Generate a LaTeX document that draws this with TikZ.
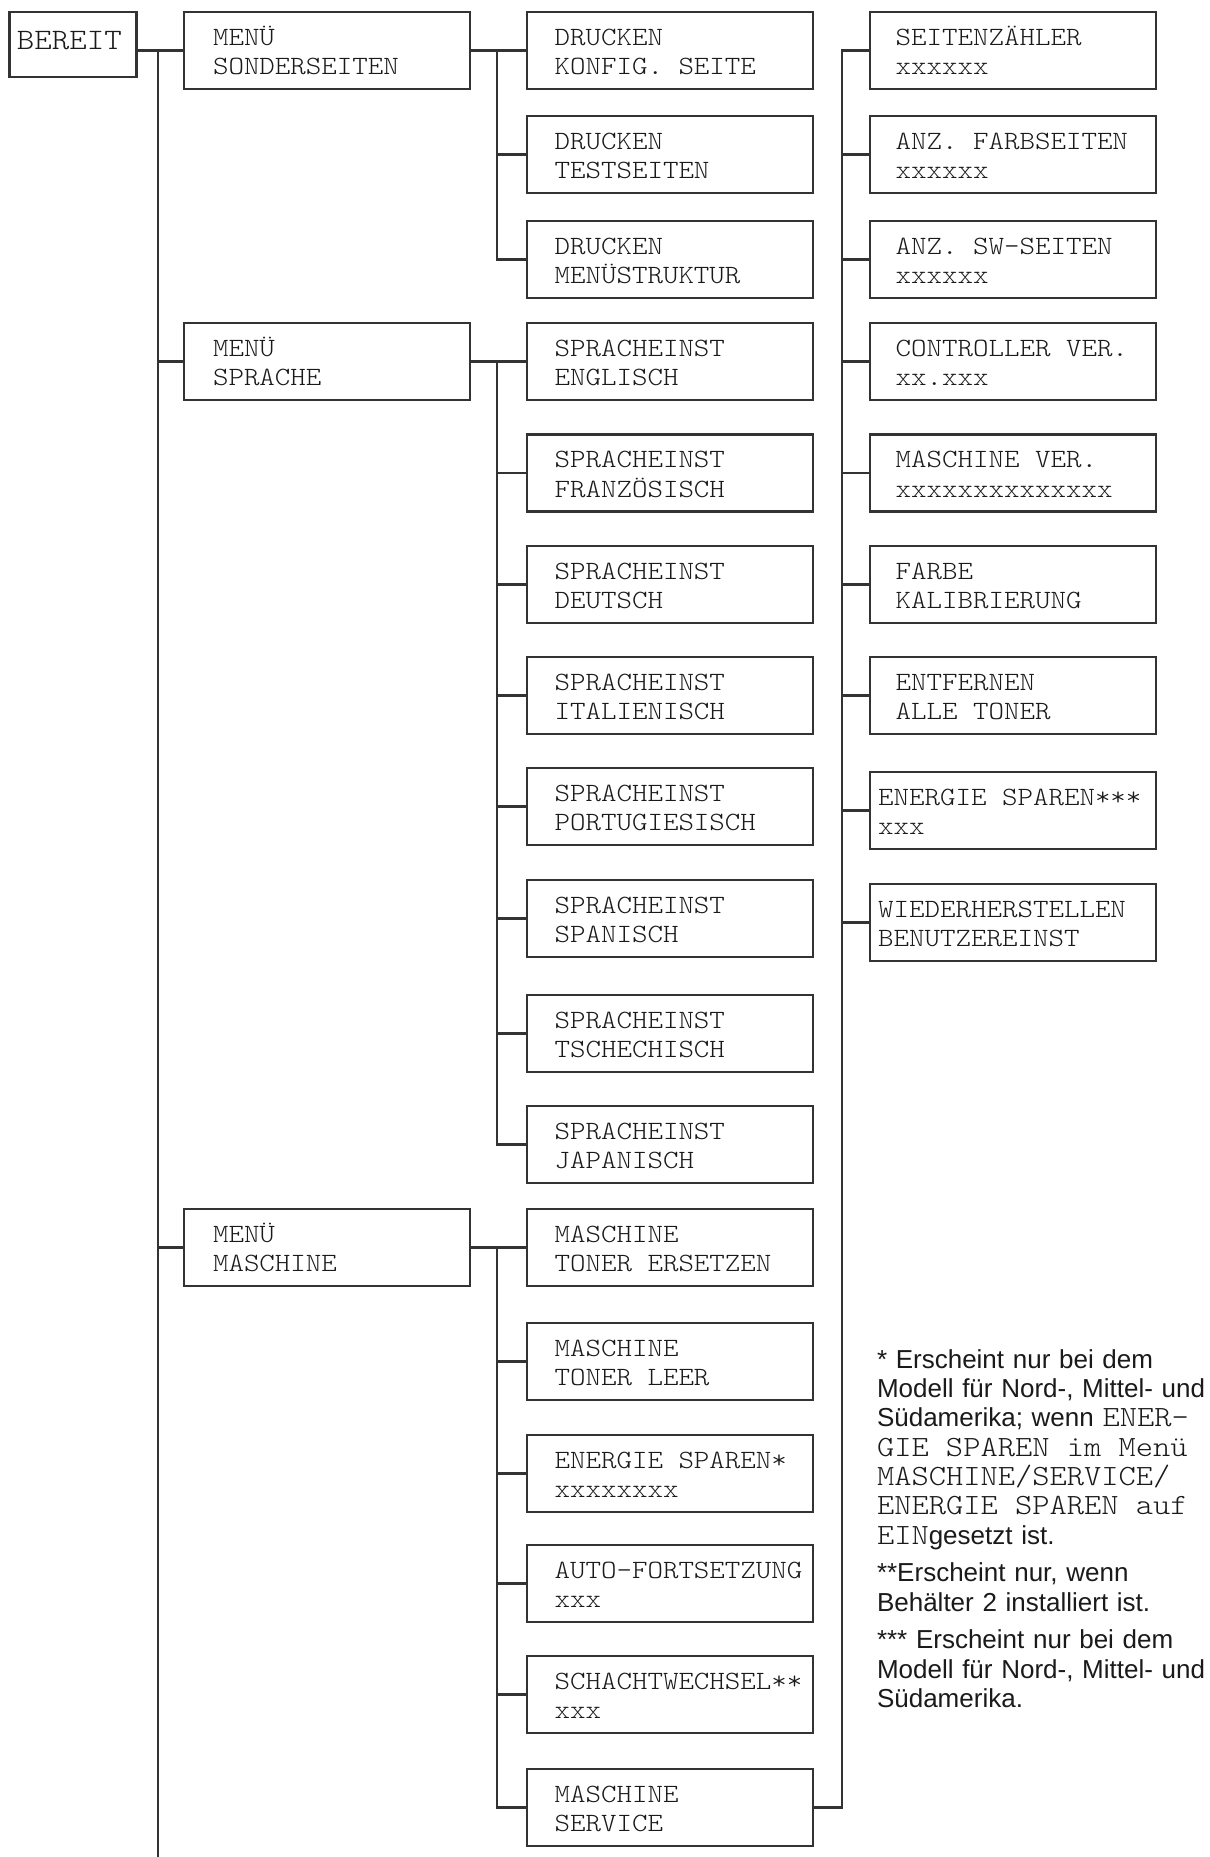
\documentclass[tikz,border=0pt]{standalone}
\usepackage{fontspec}
\setmainfont{Liberation Sans}
\setmonofont[FakeStretch=1.12]{Latin Modern Mono Light}
\usepackage{tikz}
\usetikzlibrary{positioning}
\definecolor{menuline}{HTML}{333333}
\definecolor{menutext}{HTML}{1A1A1A}
\newcommand{\fnmono}[1]{{\fontsize{16.7}{16.7}\selectfont\ttfamily\spaceskip=0.588em #1}}

\begin{document}
\begin{tikzpicture}[
    node distance=0.68cm,
    every node/.style={text=menutext, outer sep=0pt},
    menubox/.style={draw=menuline, line width=1.3pt, text width=5.56cm, minimum height=1.54cm,
        inner xsep=0.08cm, inner ysep=0.1cm, align=left,
        font=\fontsize{15}{17}\selectfont\ttfamily,
        execute at begin node={\leftskip=#1\spaceskip=0.588em\rule{0pt}{15.9pt}}, execute at end node={\strut}},
    menubox/.default=0.47cm,
    rootbox/.style={draw=menuline, line width=1.3pt, text width=2.38cm, minimum height=1.3cm,
        inner xsep=0.08cm, inner ysep=0.1cm, align=left,
        font=\fontsize{16.9}{19}\selectfont\ttfamily,
        execute at begin node={\leftskip=0.07cm\strut}, execute at end node={\rule[-7.5pt]{0pt}{7.5pt}}},
    note/.style={text width=6.8cm, inner sep=0pt, align=left,
        font=\fontsize{14.8}{16.7}\selectfont,
        execute at begin node={\strut}, execute at end node={\strut}},
    link/.style={draw=menuline, line width=1.2pt}
]
    \path[use as bounding box, fill=white] (0,0) rectangle (24.18,-37.14);

    % third column: submenu entries
    \node[menubox, anchor=north west] (d1) at (10.54,-0.24) {DRUCKEN\\KONFIG. SEITE};
    \node[menubox, below=0.54cm of d1] (d2) {DRUCKEN\\TESTSEITEN};
    \node[menubox, below=0.56cm of d2] (d3) {DRUCKEN\\MENÜSTRUKTUR};
    \node[menubox, below=0.50cm of d3] (sp1) {SPRACHEINST\\ENGLISCH};
    \node[menubox, below=0.69cm of sp1] (sp2) {SPRACHEINST\\FRANZÖSISCH};
    \node[menubox, below=0.69cm of sp2] (sp3) {SPRACHEINST\\DEUTSCH};
    \node[menubox, below=0.68cm of sp3] (sp4) {SPRACHEINST\\ITALIENISCH};
    \node[menubox, below=0.68cm of sp4] (sp5) {SPRACHEINST\\PORTUGIESISCH};
    \node[menubox, below=0.70cm of sp5] (sp6) {SPRACHEINST\\SPANISCH};
    \node[menubox, below=0.76cm of sp6] (sp7) {SPRACHEINST\\TSCHECHISCH};
    \node[menubox, below=0.68cm of sp7] (sp8) {SPRACHEINST\\JAPANISCH};
    \node[menubox, below=0.52cm of sp8] (ma1) {MASCHINE\\TONER ERSETZEN};
    \node[menubox, below=0.74cm of ma1] (ma2) {MASCHINE\\TONER LEER};
    \node[menubox, below=0.70cm of ma2] (ma3) {ENERGIE SPAREN*\\xxxxxxxx};
    \node[menubox, below=0.66cm of ma3] (ma4) {AUTO-FORTSETZUNG\\xxx};
    \node[menubox, below=0.68cm of ma4] (ma5) {SCHACHTWECHSEL**\\xxx};
    \node[menubox, below=0.72cm of ma5] (ma6) {MASCHINE\\SERVICE};

    % main menus
    \node[menubox=0.50cm, left=1.14cm of d1] (sonder) {MENÜ\\SONDERSEITEN};
    \node[menubox=0.50cm, left=1.14cm of sp1] (sprache) {MENÜ\\SPRACHE};
    \node[menubox=0.50cm, left=1.14cm of ma1] (masch) {MENÜ\\MASCHINE};
    \node[rootbox, left=0.95cm of sonder.north west, anchor=north east] (bereit) {BEREIT};

    % service menu
    \node[menubox=0.43cm, right=1.14cm of d1] (c1) {SEITENZÄHLER\\xxxxxx};
    \node[menubox=0.43cm, right=1.14cm of d2] (c2) {ANZ. FARBSEITEN\\xxxxxx};
    \node[menubox=0.43cm, right=1.14cm of d3] (c3) {ANZ. SW-SEITEN\\xxxxxx};
    \node[menubox=0.43cm, right=1.14cm of sp1] (c4) {CONTROLLER VER.\\xx.xxx};
    \node[menubox=0.43cm, right=1.14cm of sp2] (c5) {MASCHINE VER.\\xxxxxxxxxxxxxx};
    \node[menubox=0.43cm, right=1.14cm of sp3] (c6) {FARBE\\KALIBRIERUNG};
    \node[menubox=0.43cm, right=1.14cm of sp4] (c7) {ENTFERNEN\\ALLE TONER};
    \node[menubox=0.08cm, below=0.76cm of c7] (c8) {ENERGIE SPAREN***\\xxx};
    \node[menubox=0.08cm, below=0.70cm of c8] (c9) {WIEDERHERSTELLEN\\BENUTZEREINST};

    % footnotes
    \node[note, anchor=north west] (fn1) at (17.54,-26.95) {* Erscheint nur bei dem\\
        Modell für Nord-, Mittel- und\\
        Südamerika; wenn \fnmono{ENER-}\\
        \fnmono{GIE SPAREN im Menü}\\
        \fnmono{MASCHINE/SERVICE/}\\
        \fnmono{ENERGIE SPAREN auf}\\
        \fnmono{EIN}gesetzt ist.};
    \node[note, below=0.17cm of fn1] (fn2) {**Erscheint nur, wenn\\Behälter 2 installiert ist.};
    \node[note, below=0.16cm of fn2] (fn3) {*** Erscheint nur bei dem\\Modell für Nord-, Mittel- und\\Südamerika.};

    % connectors
    \coordinate (trunk) at ([xshift=-0.52cm]sonder.west);
    \coordinate (pagefoot) at (0,-37.14);
    \draw[link] (bereit.east |- sonder.west) -- (sonder.west);
    \draw[link] (trunk) -- (trunk |- pagefoot);
    \foreach \m in {sprache, masch}
        \draw[link] (trunk |- \m.west) -- (\m.west);

    \draw[link] (sonder.east) -- (d1.west);
    \draw[link] ([xshift=-0.6cm]d1.west) |- (d3.west);
    \draw[link] ([xshift=-0.6cm]d2.west) -- (d2.west);

    \draw[link] (sprache.east) -- (sp1.west);
    \draw[link] ([xshift=-0.6cm]sp1.west) |- (sp8.west);
    \foreach \i in {2,...,7}
        \draw[link] ([xshift=-0.6cm]sp\i.west) -- (sp\i.west);

    \draw[link] (masch.east) -- (ma1.west);
    \draw[link] ([xshift=-0.6cm]ma1.west) |- (ma6.west);
    \foreach \i in {2,...,5}
        \draw[link] ([xshift=-0.6cm]ma\i.west) -- (ma\i.west);

    \draw[link] (ma6.east) -| ([xshift=-0.56cm]c1.west) -- (c1.west);
    \foreach \i in {2,...,9}
        \draw[link] ([xshift=-0.56cm]c\i.west) -- (c\i.west);
\end{tikzpicture}
\end{document}
